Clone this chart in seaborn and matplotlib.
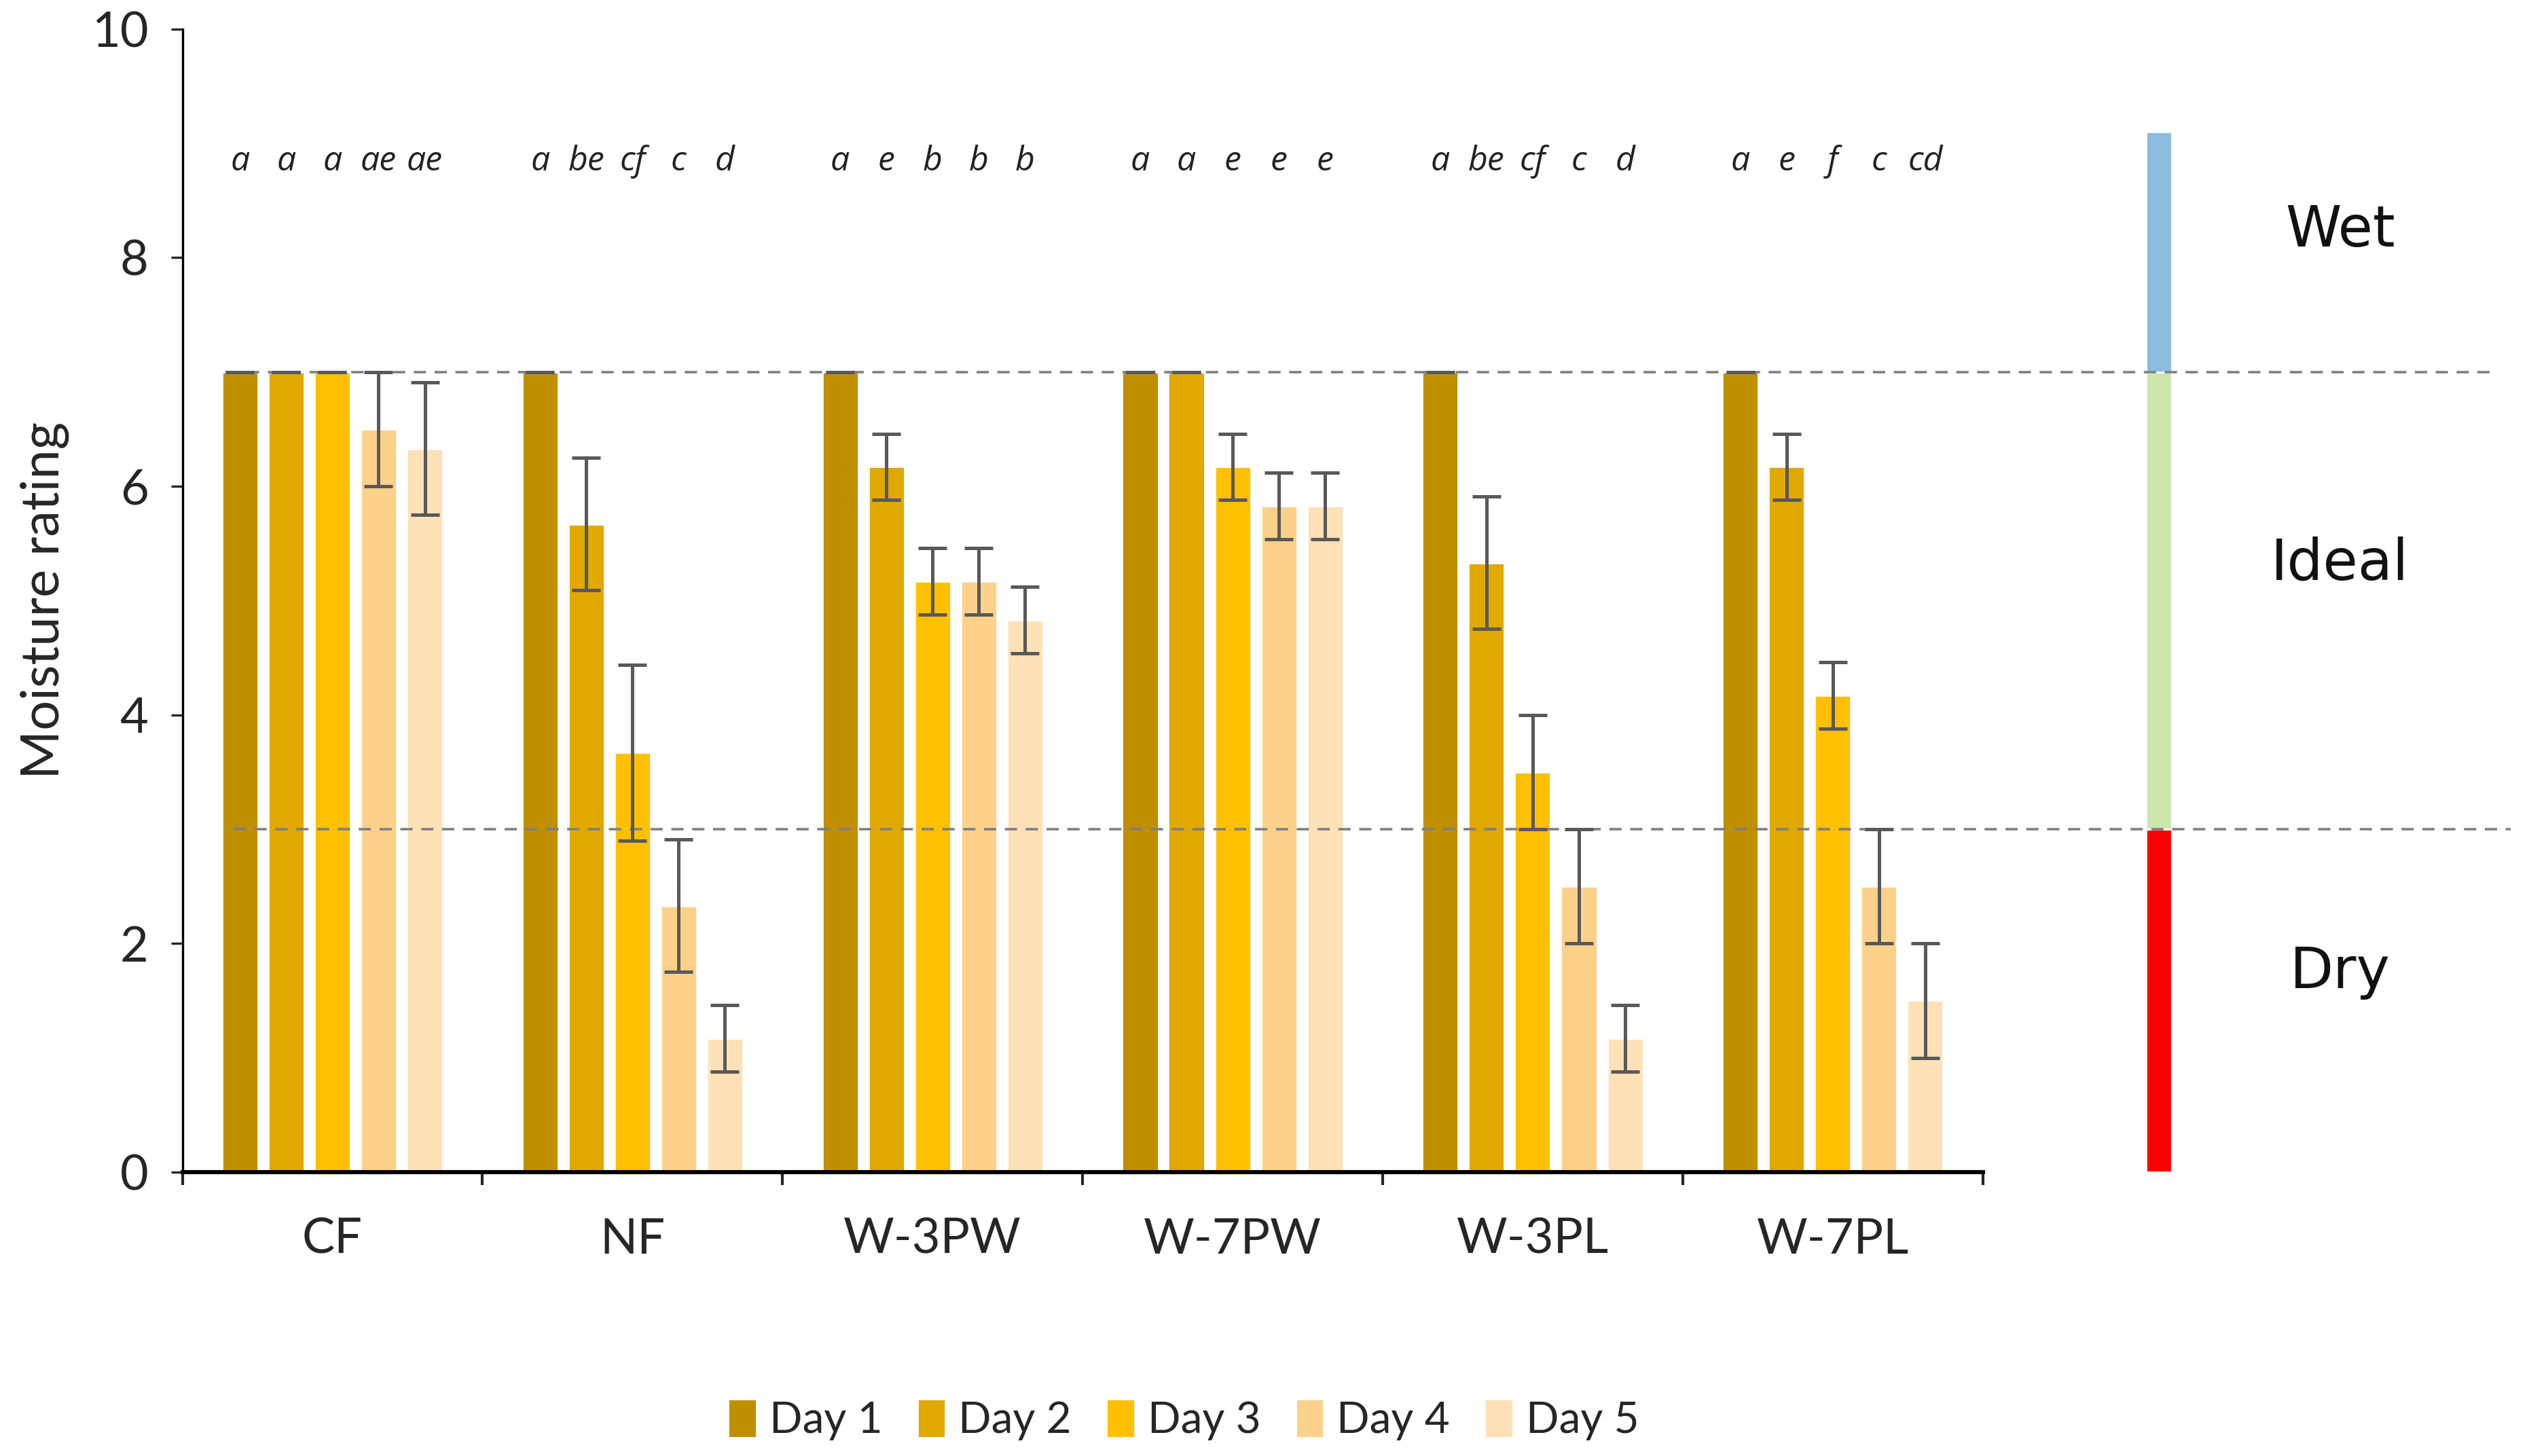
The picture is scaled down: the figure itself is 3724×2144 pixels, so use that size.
import pandas as pd
import matplotlib.pyplot as plt
import seaborn as sns

groups = ['CF', 'NF', 'W-3PW', 'W-7PW', 'W-3PL', 'W-7PL']
days = ['Day 1', 'Day 2', 'Day 3', 'Day 4', 'Day 5']

# mean moisture rating, one list per day (order of groups)
day1 = [7, 7, 7, 7, 7, 7]
day2 = [7, 5.67, 6.17, 7, 5.33, 6.17]
day3 = [7, 3.67, 5.17, 6.17, 3.5, 4.17]
day4 = [6.5, 2.33, 5.17, 5.83, 2.5, 2.5]
day5 = [6.33, 1.17, 4.83, 5.83, 1.17, 1.5]

# error (+/-)
err1 = [0, 0, 0, 0, 0, 0]
err2 = [0, 0.58, 0.29, 0, 0.58, 0.29]
err3 = [0, 0.77, 0.29, 0.29, 0.5, 0.29]
err4 = [0.5, 0.58, 0.29, 0.29, 0.5, 0.5]
err5 = [0.58, 0.29, 0.29, 0.29, 0.29, 0.5]

# significance letters
let1 = ['a', 'a', 'a', 'a', 'a', 'a']
let2 = ['a', 'be', 'e', 'a', 'be', 'e']
let3 = ['a', 'cf', 'b', 'e', 'cf', 'f']
let4 = ['ae', 'c', 'b', 'e', 'c', 'c']
let5 = ['ae', 'd', 'b', 'e', 'd', 'cd']

zones = ['Dry', 'Ideal', 'Wet']
zone_low = [0, 3, 7]
zone_high = [3, 7, 9.1]
zone_colors = ['#FF0000', '#CDE6AE', '#8DBCE0']

colors = ['#BF8F00', '#E0A800', '#FFC000', '#FDD18A', '#FEE1B6']

values = [day1, day2, day3, day4, day5]
errors = [err1, err2, err3, err4, err5]
letters = [let1, let2, let3, let4, let5]

rows = []
for d, vals in zip(days, values):
    for g, v in zip(groups, vals):
        rows.append({'group': g, 'day': d, 'rating': v})
df = pd.DataFrame(rows)

sns.set_style('white')
plt.rcParams['font.family'] = ['Lato', 'DejaVu Sans']

fig = plt.figure(figsize=(18.62, 10.72), dpi=200)
ax = fig.add_axes([0.0721, 0.195, 0.9279, 0.785])

sns.barplot(data=df, x='group', y='rating', hue='day', palette=colors,
            width=0.77, gap=0.22, errorbar=None, saturation=1, ax=ax,
            legend=True)

for cont, err, labs in zip(ax.containers, errors, letters):
    xs = [p.get_x() + p.get_width() / 2 for p in cont.patches]
    hs = [p.get_height() for p in cont.patches]
    ax.errorbar(xs, hs, yerr=err, fmt='none', ecolor='#595959',
                elinewidth=1.8, capsize=7.5, capthick=1.8, zorder=4)
    for x, t in zip(xs, labs):
        ax.text(x, 8.84, t, ha='center', va='center', fontsize=18,
                style='italic', color='#222222', family=['Open Sans', 'DejaVu Sans'])

# zone bar on the right
ax.bar([6.086] * 3, [h - l for l, h in zip(zone_low, zone_high)], bottom=zone_low,
       width=0.086, color=zone_colors, zorder=2)
zone_y = [1.75, 5.32, 8.24]
for z, y in zip(zones, zone_y):
    ax.text(6.69, y, z, ha='center', va='center', fontsize=30,
            family=['DejaVu Sans'], color='#111111')

ax.hlines(7, -0.355, 7.2, colors='#7F7F7F', linestyles=(0, (5, 3.5)), linewidth=1.3, zorder=3)
ax.hlines(3, -0.33, 7.26, colors='#7F7F7F', linestyles=(0, (5, 3.5)), linewidth=1.3, zorder=3)

ax.set_xlim(-0.5, 7.32)
ax.set_ylim(0, 10)
ax.set_yticks([0, 2, 4, 6, 8, 10])
ax.tick_params(axis='y', labelsize=26, length=6, width=1.2, pad=12, direction='out', left=True)
ax.set_xticks(range(len(groups)))
ax.set_xticklabels(groups)
ax.set_xticks([i - 0.5 for i in range(len(groups) + 1)], minor=True)
ax.tick_params(axis='x', which='major', length=0, labelsize=26, pad=24)
ax.tick_params(axis='x', which='minor', length=7, width=1.5, direction='out', bottom=True)

for s in ['top', 'right']:
    ax.spines[s].set_visible(False)
ax.spines['left'].set_color('black')
ax.spines['left'].set_linewidth(1.2)
ax.spines['bottom'].set_color('black')
ax.spines['bottom'].set_linewidth(2.2)
ax.spines['bottom'].set_bounds(-0.5, 5.5)

ax.set_xlabel('')
ax.set_ylabel('Moisture rating', fontsize=28, labelpad=12)

handles, labels = ax.get_legend_handles_labels()
ax.get_legend().remove()
fig.legend(handles, labels, loc='center', bbox_to_anchor=(0.468, 0.025), ncol=5,
           frameon=False, fontsize=23, handlelength=0.65, handleheight=1.0,
           handletextpad=0.3, columnspacing=0.8)

plt.savefig('out.png', dpi=200)
